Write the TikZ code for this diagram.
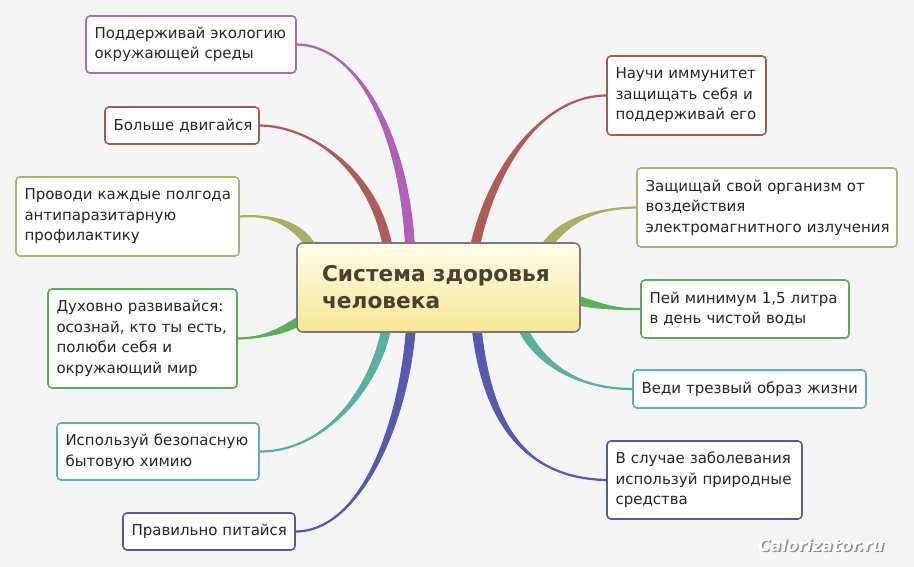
\documentclass[tikz,border=0pt]{standalone}
\usepackage{fontspec}
\setmainfont{DejaVu Sans}
\usetikzlibrary{calc}
\definecolor{bgc}{HTML}{F4F4F4}
\definecolor{txt}{HTML}{262626}
\definecolor{hubtxt}{HTML}{45432F}
\definecolor{cpur}{HTML}{B060B8}
\definecolor{bpur}{HTML}{A070A8}
\definecolor{cred}{HTML}{B05A5A}
\definecolor{bred}{HTML}{A05A5A}
\definecolor{coli}{HTML}{A8B060}
\definecolor{boli}{HTML}{B0B070}
\definecolor{cgre}{HTML}{58B058}
\definecolor{bgre}{HTML}{60A860}
\definecolor{ctea}{HTML}{58B0A0}
\definecolor{btea}{HTML}{60B0A8}
\definecolor{cblu}{HTML}{5858B0}
\definecolor{bblu}{HTML}{5858A0}
\pgfdeclarelayer{bglayer}
\pgfdeclarelayer{lines}
\pgfsetlayers{bglayer,lines,main}
\newcommand\mmbranch[6]{%
  \fill[#1, draw=#1, line width=0.8pt, line join=round] (#2) .. controls (#3) and ($(#4)+(#6)$) .. ($(#5)+(#6)$) -- ($(#5)-(#6)$) .. controls ($(#4)-(#6)$) and (#3) .. (#2) -- cycle;
  \draw[#1, line width=2.2pt] (#2) .. controls (#3) and (#4) .. (#5);
}
\tikzset{
  leaf/.style={draw, rounded corners=4pt, fill=white, line width=1.6pt, align=left,
    inner xsep=8.5pt, inner ysep=0pt, text=txt,
    font=\fontsize{15}{20.5}\selectfont},
  hubbox/.style={draw=black!52, rounded corners=6pt, line width=1.6pt, align=left,
    inner xsep=25pt, inner ysep=0pt, text=hubtxt,
    font=\fontsize{21.7}{27}\selectfont\bfseries},
}
\begin{document}
\begin{tikzpicture}[x=1pt,y=-1pt]
\useasboundingbox (0,0) rectangle (914,567);
\begin{pgfonlayer}{bglayer}
\fill[bgc] (0,0) rectangle (914,567);
\end{pgfonlayer}

\node[hubbox, top color={rgb,255:red,255;green,252;blue,232}, bottom color={rgb,255:red,247;green,230;blue,150},
  minimum width=283pt, minimum height=89pt, text width=233pt] (hub) at (438.5,287.5)
  {Система~здоровья\\человека};

\node[leaf, draw=bpur, minimum width=210pt, minimum height=57pt, text width=193pt] (b1) at (191,44.5)
  {Поддерживай~экологию\\окружающей~среды};
\node[leaf, draw=bred, minimum width=154pt, minimum height=37pt, text width=137pt] (b2) at (182,125.5)
  {Больше~двигайся};
\node[leaf, draw=boli, minimum width=223pt, minimum height=79pt, text width=206pt] (b3) at (127.5,216.5)
  {Проводи~каждые~полгода\\антипаразитарную\\профилактику};
\node[leaf, draw=bgre, minimum width=189pt, minimum height=99pt, text width=172pt] (b5) at (142.5,338.5)
  {Духовно~развивайся:\\осознай,~кто~ты~есть,\\полюби~себя~и\\окружающий~мир};
\node[leaf, draw=btea, minimum width=202pt, minimum height=57pt, text width=185pt] (b6) at (158,451.5)
  {Используй~безопасную\\бытовую~химию};
\node[leaf, draw=bblu, minimum width=172pt, minimum height=37pt, text width=155pt] (b7) at (209,531.5)
  {Правильно~питайся};

\node[leaf, draw=bred, minimum width=159pt, minimum height=79pt, text width=142pt] (b8) at (686.5,95.5)
  {Научи~иммунитет\\защищать~себя~и\\поддерживай~его};
\node[leaf, draw=boli, minimum width=260pt, minimum height=79pt, text width=243pt] (b9) at (767,207.5)
  {Защищай~свой~организм~от\\воздействия\\электромагнитного~излучения};
\node[leaf, draw=bgre, minimum width=208pt, minimum height=58pt, text width=191pt] (b10) at (745,309)
  {Пей~минимум~1,5~литра\\в~день~чистой~воды};
\node[leaf, draw=btea, minimum width=233pt, minimum height=38pt, text width=216pt] (b11) at (749.5,389)
  {Веди~трезвый~образ~жизни};
\node[leaf, draw=bblu, minimum width=195pt, minimum height=78pt, text width=178pt] (b12) at (704.5,480)
  {В~случае~заболевания\\используй~природные\\средства};

\node[text=black!45, font=\fontsize{16.5}{16.5}\selectfont\bfseries\itshape] (wmshadow) at (822.5,546.5) {Calorizator.ru};
\node[text=white, font=\fontsize{16.5}{16.5}\selectfont\bfseries\itshape] (wm) at (821,545) {Calorizator.ru};

\coordinate (e1) at ($(hub.north west)+(114,8)$);
\coordinate (e2) at ($(hub.north west)+(92,8)$);
\coordinate (e3) at ($(hub.north west)+(16,6)$);
\coordinate (e5) at ($(hub.north west)+(6,77)$);
\coordinate (e6) at ($(hub.north west)+(91,82)$);
\coordinate (e7) at ($(hub.north west)+(115,82)$);
\coordinate (e8) at ($(hub.north west)+(178,8)$);
\coordinate (e9) at ($(hub.north west)+(250,4)$);
\coordinate (e10) at ($(hub.north west)+(276,57)$);
\coordinate (e11) at ($(hub.north west)+(224,82)$);
\coordinate (e12) at ($(hub.north west)+(180,82)$);

\begin{pgfonlayer}{lines}
\mmbranch{cpur}{b1.east}{358,45}{405,135}{e1}{4.5,0}
\mmbranch{cred}{b2.east}{312,126}{376,172}{e2}{4.5,0}
\mmbranch{coli}{b3.east}{272,214}{298,224}{e3}{3,-3.5}
\mmbranch{cgre}{b5.east}{265,338}{285,330}{e5}{1.5,4}
\mmbranch{ctea}{b6.east}{322,452}{375,392}{e6}{4.5,0}
\mmbranch{cblu}{b7.east}{362,531}{405,420}{e7}{4.5,0}
\mmbranch{cred}{b8.west}{540,96}{490,172}{e8}{4.5,0}
\mmbranch{coli}{b9.west}{590,208}{562,224}{e9}{3,3.5}
\mmbranch{cgre}{b10.west}{612,310}{592,304}{e10}{0,4.5}
\mmbranch{ctea}{b11.west}{580,389}{540,366}{e11}{4,-1.5}
\mmbranch{cblu}{b12.west}{522,478}{486,420}{e12}{4.5,0}
\end{pgfonlayer}
\end{tikzpicture}
\end{document}
